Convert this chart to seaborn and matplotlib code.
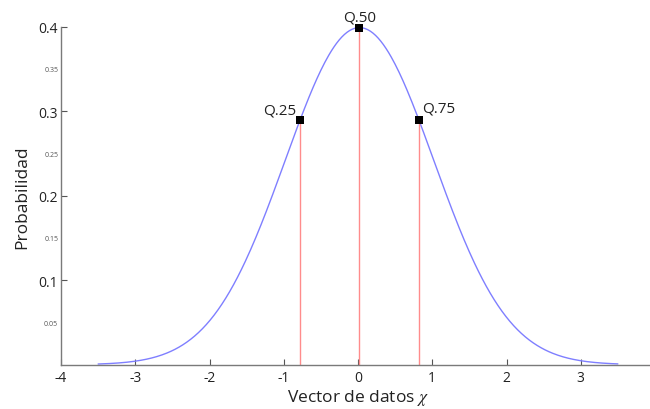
import numpy as np
import pandas as pd
import matplotlib
matplotlib.use("Agg")
import matplotlib.pyplot as plt
import seaborn as sns

# Normal distribution fitted to the data vector, drawn over [-3.5, 3.5]
mu = 0.02
sigma = 1.0
x_start, x_end = -3.5, 3.5

# Sample quartiles marked on the curve
quartile_labels = ["Q.25", "Q.50", "Q.75"]
quartile_x = [-0.78, 0.02, 0.82]

x_ticks = [-4, -3, -2, -1, 0, 1, 2, 3, 4]
y_major = [0.1, 0.2, 0.3, 0.4]
y_minor = [0.05, 0.15, 0.25, 0.35]


def normal_pdf(x):
    x = np.asarray(x, dtype=float)
    return np.exp(-0.5 * ((x - mu) / sigma) ** 2) / (sigma * np.sqrt(2 * np.pi))


xs = np.linspace(x_start, x_end, 400)
curve = pd.DataFrame({"x": xs, "p": normal_pdf(xs)})
marks = pd.DataFrame({"x": quartile_x, "p": normal_pdf(quartile_x), "label": quartile_labels})

sns.set_style("white")
plt.rcParams["font.family"] = ["Open Sans", "DejaVu Sans"]
plt.rcParams["mathtext.fontset"] = "stix"

fig = plt.figure(figsize=(6.5, 4.1), dpi=100)
ax = fig.add_axes([61 / 650, 44.3 / 410, 594 / 650, 338 / 410])

sns.lineplot(data=curve, x="x", y="p", ax=ax, color="#7f7fff", linewidth=1.0)
ax.vlines(marks["x"], 0, marks["p"], colors="#ff8c8c", linewidth=1.0)
sns.scatterplot(data=marks, x="x", y="p", ax=ax, marker="s", s=36, color="black",
                edgecolor="black", linewidth=0, zorder=5, clip_on=False)

offsets = {"Q.25": (-3, 2, "right", "bottom"),
           "Q.50": (0, 2, "center", "bottom"),
           "Q.75": (2, 3, "left", "bottom")}
for _, r in marks.iterrows():
    dx, dy, ha, va = offsets[r["label"]]
    ax.annotate(r["label"], (r["x"], r["p"]), xytext=(dx, dy), textcoords="offset points",
                ha=ha, va=va, fontsize=11, color="#222222")

ax.set_xlim(-4, 4)
ax.set_ylim(0, 0.4)
ax.set_xticks(x_ticks)
ax.set_xticklabels([str(t) for t in x_ticks])
ax.set_yticks(y_major)
ax.set_yticklabels([f"{v:g}" for v in y_major])
ax.set_yticks(y_minor, minor=True)
ax.set_yticklabels([f"{v:g}" for v in y_minor], minor=True)

for s in ["top", "right"]:
    ax.spines[s].set_visible(False)
for s in ["left", "bottom"]:
    ax.spines[s].set_color("#7a7a7a")
    ax.spines[s].set_linewidth(1.0)

ax.tick_params(axis="x", direction="in", length=4, width=0.8, color="#555555",
               labelsize=10, labelcolor="#222222", pad=4)
ax.tick_params(axis="y", which="major", direction="in", length=4, width=0.8,
               color="#555555", labelsize=10, labelcolor="#222222", pad=2)
ax.tick_params(axis="y", which="minor", direction="in", length=4, width=0.8,
               color="#555555", labelsize=5, labelcolor="#555555", pad=2)
ax.tick_params(axis="both", left=True, bottom=True)

ax.set_xlabel(r"Vector de datos $\chi$", fontsize=12.5, color="#222222", labelpad=1)
ax.set_ylabel("Probabilidad", fontsize=12.5, color="#222222", labelpad=6)
ax.grid(False)

fig.savefig("out.png", dpi=100)
